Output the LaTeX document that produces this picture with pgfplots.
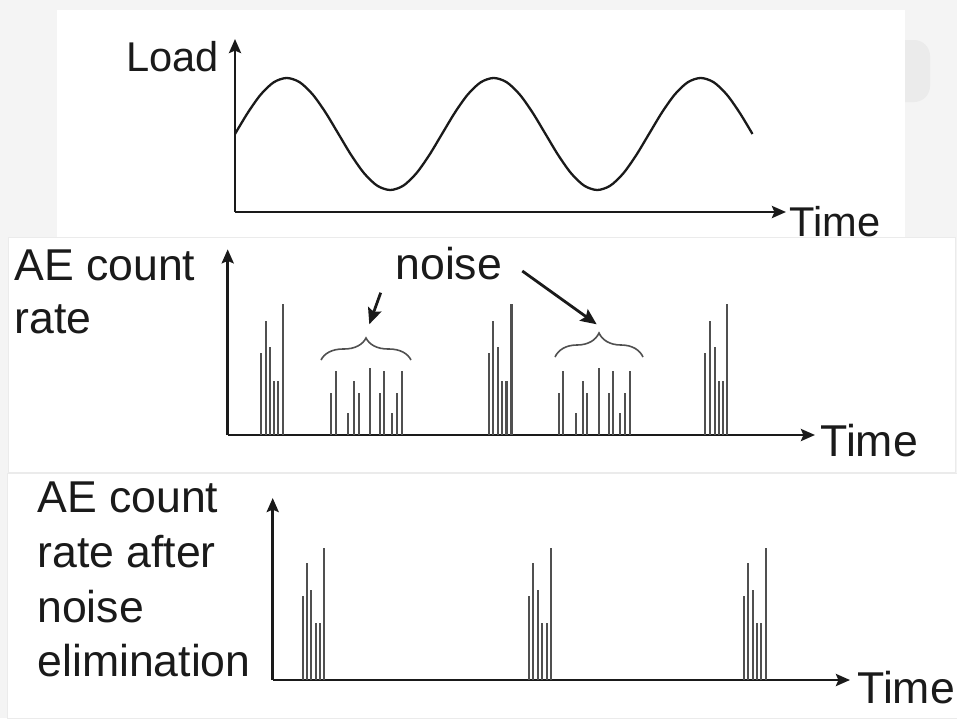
\documentclass[border=0pt]{standalone}
\usepackage{fontspec}
\setmainfont{Liberation Sans}
\usepackage{pgfplots}
\pgfplotsset{compat=1.18}
\usetikzlibrary{arrows.meta,decorations.pathreplacing}

\definecolor{bg}{HTML}{F4F4F4}
\definecolor{bgdark}{HTML}{EBEBEB}
\definecolor{ink}{HTML}{1A1A1A}
\definecolor{spike}{HTML}{505050}

% one schematic panel: bare axes with arrow heads, no ticks
\pgfplotsset{
  schem/.style={
    scale only axis, clip=false,
    axis lines=left,
    xtick=\empty, ytick=\empty,
    axis line style={line width=1.4pt, ink},
    x axis line style={-{Stealth[length=7pt,width=6pt,inset=1.2pt]}},
    y axis line style={-{Stealth[length=7pt,width=6pt,inset=1.2pt]}},
    anchor=south west,
  },
  spikes/.style={ycomb, no markers, line width=1.15pt, spike},
}

\newcommand{\lblfont}{\fontsize{22.3pt}{26pt}\selectfont}
\newcommand{\topfont}{\fontsize{20.8pt}{24pt}\selectfont}

\begin{document}
\begin{tikzpicture}
% background and panels (pixel units, y down)
\begin{scope}[x=0.5pt, y=-0.5pt]
  \path[use as bounding box] (0,0) rectangle (957,718);
  \fill[bg] (0,0) rectangle (957,718);
  \fill[bgdark, rounded corners=8pt] (690,40) rectangle (930,102);
  \fill[white] (57,10) rectangle (905,237);
  \fill[white, draw=bgdark, line width=0.4pt] (8,237) rectangle (955,472);
  \fill[white, draw=bgdark, line width=0.4pt] (7,473) rectangle (957,718);
  \coordinate (O1) at (235,212);
  \coordinate (O2) at (227.7,435);
  \coordinate (O3) at (272.7,680);
\end{scope}

% --- load ---
\begin{axis}[schem, at={(O1)},
  width=275.5pt, height=86.5pt,
  xmin=0, xmax=5.324, ymin=-1.393, ymax=1.696]
\addplot[smooth, line width=1.15pt, ink] coordinates {
 (0,0) (0.125,0.383) (0.25,0.707) (0.375,0.924) (0.5,1) (0.625,0.924) (0.75,0.707) (0.875,0.383)
 (1,0) (1.125,-0.383) (1.25,-0.707) (1.375,-0.924) (1.5,-1) (1.625,-0.924) (1.75,-0.707) (1.875,-0.383)
 (2,0) (2.125,0.383) (2.25,0.707) (2.375,0.924) (2.5,1) (2.625,0.924) (2.75,0.707) (2.875,0.383)
 (3,0) (3.125,-0.383) (3.25,-0.707) (3.375,-0.924) (3.5,-1) (3.625,-0.924) (3.75,-0.707) (3.875,-0.383)
 (4,0) (4.125,0.383) (4.25,0.707) (4.375,0.924) (4.5,1) (4.625,0.924) (4.75,0.707) (4.875,0.383)
 (5,0)};
\end{axis}

% --- AE count rate ---
\begin{axis}[schem, at={(O2)},
  width=293.65pt, height=92.85pt,
  xmin=0, xmax=587.3, ymin=0, ymax=185.7]
% loading peaks
\addplot[spikes] coordinates {(33,82) (38,114) (42,88) (46.3,54) (50.6,54) (55,131)};
\addplot[spikes] coordinates {(261.6,82) (265.6,114) (270.1,88) (274.3,54) (278.8,54) (283.8,131)};
\addplot[spikes] coordinates {(477.3,82) (482.3,114) (487.3,88) (491.6,54) (495.6,54) (499.6,131)};
% noise
\addplot[spikes] coordinates {(103.3,42) (108.3,64) (120.6,22) (126.6,54) (131,42) (142.3,67)
  (152.3,42) (156.6,64) (164,22) (169.6,42) (174.3,64)};
\addplot[spikes] coordinates {(331,42) (335,64) (348,22) (355,54) (359.3,42) (371,67)
  (381,42) (385.3,64) (392.3,22) (397.6,42) (402.3,64)};
\end{axis}

% --- AE count rate after noise elimination ---
\begin{axis}[schem, at={(O3)},
  width=288.65pt, height=91pt,
  xmin=0, xmax=577.3, ymin=0, ymax=182]
\addplot[spikes] coordinates {(30,84) (34.6,117) (38.6,90) (43.3,57) (47.3,57) (51.6,132)};
\addplot[spikes] coordinates {(256.3,84) (260.6,117) (265,90) (269.3,57) (274,57) (278.3,132)};
\addplot[spikes] coordinates {(471,84) (475.6,117) (480,90) (484.3,57) (488.6,57) (493,132)};
\end{axis}

% labels, braces and arrows
\begin{scope}[x=0.5pt, y=-0.5pt, every node/.style={inner sep=0pt, anchor=base west, text=ink}]
  \node[font=\topfont] at (126,71.7) {Load};
  \node[font=\topfont] at (789,236) {Time};

  \node[font=\lblfont] at (14,280) {AE count};
  \node[font=\lblfont] at (14,333) {rate};
  \node[font=\lblfont] at (395,279.3) {noise};
  \node[font=\lblfont] at (820,456) {Time};
  \draw[decorate, decoration={brace, amplitude=11pt}, line width=0.8pt, spike] (321,360) -- (411,360);
  \draw[decorate, decoration={brace, amplitude=12pt}, line width=0.8pt, spike] (555,357) -- (643,357);
  \draw[line width=1.4pt, ink, -{Stealth[length=8pt,width=7pt,inset=1.4pt]}] (380.7,292.7) -- (369.3,324.3);
  \draw[line width=1.4pt, ink, -{Stealth[length=8pt,width=7pt,inset=1.4pt]}] (522.3,271) -- (596.7,324.3);

  \node[font=\lblfont] at (37,512.7) {AE count};
  \node[font=\lblfont] at (37,567.3) {rate after};
  \node[font=\lblfont] at (37,622.7) {noise};
  \node[font=\lblfont] at (37,676) {elimination};
  \node[font=\lblfont] at (857,703) {Time};
\end{scope}
\end{tikzpicture}
\end{document}
